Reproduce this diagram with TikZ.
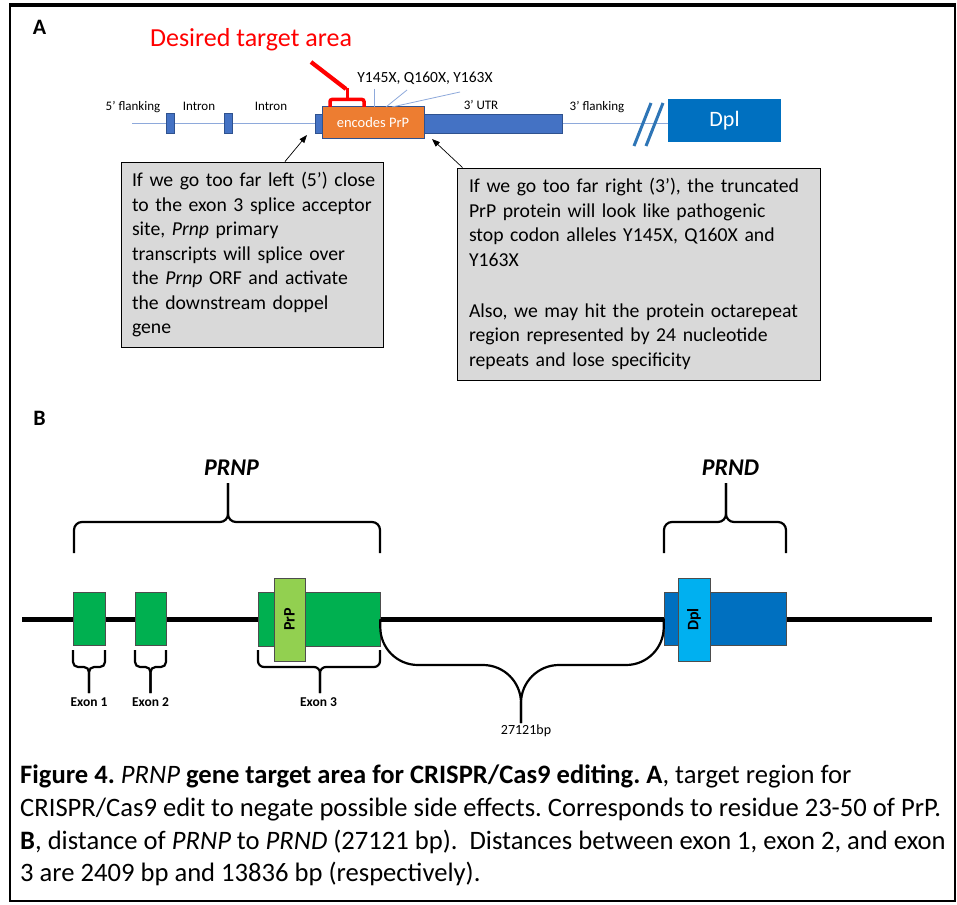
\documentclass[tikz,border=0pt]{standalone}
\usepackage{fontspec}
\setmainfont{Carlito}
\usetikzlibrary{arrows.meta}
\frenchspacing

\definecolor{thinblue}{HTML}{8EA9DB}
\definecolor{barblue}{HTML}{4472C4}
\definecolor{barline}{HTML}{2F528F}
\definecolor{prporange}{HTML}{ED7D31}
\definecolor{dplblue}{HTML}{0070C0}
\definecolor{slashblue}{HTML}{2E75B6}
\definecolor{noteGrey}{HTML}{D9D9D9}
\definecolor{exgreen}{HTML}{00B050}
\definecolor{prpgreen}{HTML}{92D050}
\definecolor{dpllight}{HTML}{00B0F0}
\definecolor{edgegrey}{HTML}{4D4D4D}

% one unbreakable line of a note
\newcommand{\noteline}[1]{\mbox{#1}\\}

\tikzset{
  lbl/.style={anchor=base, inner sep=0pt, font=\fontsize{13}{15}\selectfont},
  panel/.style={anchor=base, inner sep=0pt, font=\bfseries\fontsize{22}{26}\selectfont},
  exonA/.style={draw=barline, fill=barblue, line width=0.8pt, minimum width=8pt, minimum height=20pt, inner sep=0pt},
  note/.style={draw=black, fill=noteGrey, line width=0.9pt, align=left, inner xsep=11pt, inner ysep=0pt,
               font=\fontsize{19.7}{24.5}\selectfont},
  pointer/.style={draw=black, line width=0.7pt, -{Triangle[length=8pt,width=6pt]}},
  tick/.style={draw=thinblue, line width=0.8pt},
  gbox/.style={draw=edgegrey, line width=0.7pt, inner sep=0pt},
  vlabel/.style={rotate=90, font=\bfseries\fontsize{16}{18}\selectfont, inner sep=0pt},
  brace/.style={draw=black, line width=2.2pt},
  capline/.style={anchor=base west, inner sep=0pt, font=\fontsize{26.6}{33}\selectfont}
}

\begin{document}
\begin{tikzpicture}[x=1pt, y=-1pt]
\useasboundingbox (0,0) rectangle (957,904);
\fill[white] (0,0) rectangle (957,904);
% outer frame
\draw[line width=1.8pt] (10,5) rectangle (955,901);
\draw[line width=3.5pt] (9,5) -- (956,5);

% ---------------- panel A ----------------
\node[panel] (labA) at (39.5,35) {A};
\node[anchor=base, inner sep=0pt, text=red, font=\fontsize{26}{30}\selectfont] (want) at (251,47) {Desired target area};

% gene backbone
\draw[draw=thinblue, line width=1pt] (132,123.5) -- (320,123.5);
\draw[draw=thinblue, line width=1pt] (560,123.5) -- (670,123.5);
\node[exonA] (ex1) at (170,123) {};
\node[exonA] (ex2) at (228,123) {};
\node[draw=barline, fill=barblue, line width=0.8pt, minimum width=247pt, minimum height=19pt, inner sep=0pt] (utr) at (438.5,123.5) {};
\node[draw=barline, fill=prporange, line width=1pt, minimum width=102pt, minimum height=32pt, inner sep=0pt,
      text=white, font=\fontsize{14.5}{16}\selectfont] (orf) at (373,123) {encodes PrP};
% break marks
\draw[draw=slashblue, line width=3pt] (634,146) -- (651,103);
\draw[draw=slashblue, line width=3pt] (646,146) -- (663,103);
\node[fill=dplblue, minimum width=113pt, minimum height=43pt, inner sep=0pt,
      text=white, font=\fontsize{22}{24}\selectfont] (dplA) at (724.5,120.5) {Dpl};

% region labels
\node[lbl] (fl5) at (133,111) {5’ flanking};
\node[lbl] (in1) at (199,111) {Intron};
\node[lbl] (in2) at (271,111) {Intron};
\node[lbl] (utrl) at (481,110) {3’ UTR};
\node[lbl] (fl3) at (597,111) {3’ flanking};
\node[anchor=base, inner sep=0pt, font=\fontsize{15.5}{18}\selectfont] (stops) at (425,83) {Y145X, Q160X, Y163X};

% stop codon ticks
\coordinate (s1) at (374,107);
\coordinate (s2) at (386,107);
\coordinate (s3) at (392,107);
\draw[tick] (374,89) -- (s1);
\draw[tick] (407,90) -- (s2);
\draw[tick] (460,92) -- (s3);

% target callout
\draw[red, line width=4.2pt] (311,62) -- (346,89);
\draw[red, line width=3.5pt, rounded corners=2pt] (330,107) -- (330,99.5) -- (364,99.5) -- (364,107);
\draw[red, line width=3.5pt] (347.5,99.5) -- (347.5,88);

% notes
\node[note, text width=240pt, minimum height=185pt] (leftnote) at (252,254.5) {%
\noteline{If we go too far left (5’) close}
\noteline{to the exon 3 splice acceptor}
\noteline{site, \textit{Prnp} primary}
\noteline{transcripts will splice over}
\noteline{the \textit{Prnp} ORF and activate}
\noteline{the downstream doppel}
\mbox{gene}};
\node[note, inner xsep=12pt, text width=339pt, minimum height=212pt] (rightnote) at (638.5,274) {%
\noteline{If we go too far right (3’), the truncated}
\noteline{PrP protein will look like pathogenic}
\noteline{stop codon alleles Y145X, Q160X and}
\mbox{Y163X}\\[26.5pt]
\noteline{Also, we may hit the protein octarepeat}
\noteline{region represented by 24 nucleotide}
\mbox{repeats and lose specificity}};

\coordinate (hitL) at (307,135);
\coordinate (hitR) at (432,139);
\draw[pointer] ([xshift=33pt]leftnote.north) -- (hitL);
\draw[pointer] ([xshift=-176pt]rightnote.north) -- (hitR);

% ---------------- panel B ----------------
\node[panel] (labB) at (39.5,425) {B};
\node[anchor=base, inner sep=0pt, font=\bfseries\itshape\fontsize{24}{28}\selectfont] (prnp) at (231.5,475) {PRNP};
\node[anchor=base, inner sep=0pt, font=\bfseries\itshape\fontsize{24}{28}\selectfont] (prnd) at (730.5,475) {PRND};

% gene braces
\draw[brace, rounded corners=8pt] (74,553) -- (74,522) -- (228,522) -- (228,483);
\draw[brace, rounded corners=8pt] (380,553) -- (380,522) -- (228,522) -- (228,483);
\draw[brace, rounded corners=8pt] (664,553) -- (664,522) -- (726,522) -- (726,483);
\draw[brace, rounded corners=8pt] (786,553) -- (786,522) -- (726,522) -- (726,483);

% chromosome line
\draw[line width=5pt] (22,619) -- (932,619);

% PRNP exons
\node[gbox, fill=exgreen, minimum width=32pt, minimum height=53pt] (e1) at (89,618.5) {};
\node[gbox, fill=exgreen, minimum width=31pt, minimum height=53pt] (e2) at (150.5,618.5) {};
\node[gbox, fill=exgreen, minimum width=122pt, minimum height=54pt] (e3) at (319,619) {};
\node[gbox, fill=prpgreen, minimum width=31pt, minimum height=83pt] (prp) at (289.5,619.5) {};
\node[vlabel] at (prp) {PrP};

% PRND
\node[gbox, fill=dplblue, minimum width=122pt, minimum height=53pt] (d1) at (725,618.5) {};
\node[gbox, fill=dpllight, minimum width=32pt, minimum height=83pt] (dpl) at (694,619.5) {};
\node[vlabel] at (dpl) {Dpl};

% exon braces
\draw[brace, rounded corners=5pt] (73,650) -- (73,667) -- (89,667) -- (89,693);
\draw[brace, rounded corners=5pt] (105,650) -- (105,667) -- (89,667) -- (89,693);
\draw[brace, rounded corners=5pt] (135,650) -- (135,667) -- (150.5,667) -- (150.5,693);
\draw[brace, rounded corners=5pt] (166,650) -- (166,667) -- (150.5,667) -- (150.5,693);
\draw[brace, rounded corners=6pt] (258,650) -- (258,667) -- (320,667) -- (320,693);
\draw[brace, rounded corners=6pt] (380,650) -- (380,667) -- (320,667) -- (320,693);
\node[anchor=base, inner sep=0pt, font=\bfseries\fontsize{13.5}{15}\selectfont] (x1l) at (89,706) {Exon 1};
\node[anchor=base, inner sep=0pt, font=\bfseries\fontsize{13.5}{15}\selectfont] (x2l) at (150.5,706) {Exon 2};
\node[anchor=base, inner sep=0pt, font=\bfseries\fontsize{13.5}{15}\selectfont] (x3l) at (318.5,706) {Exon 3};

% intergenic distance
\draw[line width=2.2pt, rounded corners=38pt] (e3.east) -- (380,665) -- (521,665) -- (521,723);
\draw[line width=2.2pt, rounded corners=38pt] (d1.west) -- (664,665) -- (521,665) -- (521,723);
\node[anchor=base, inner sep=0pt, font=\fontsize{14}{16}\selectfont] (gap) at (526,734) {27121bp};

% ---------------- caption ----------------
\node[capline] (cap1) at (20,783) {\textbf{Figure 4.} \textit{PRNP} \textbf{gene target area for CRISPR/Cas9 editing. A}, target region for};
\node[capline] (cap2) at (20,816) {CRISPR/Cas9 edit to negate possible side effects. Corresponds to residue 23-50 of PrP.};
\node[capline] (cap3) at (20,849) {\textbf{B}, distance of \textit{PRNP} to \textit{PRND} (27121 bp).\ \ Distances between exon 1, exon 2, and exon};
\node[capline] (cap4) at (20,881) {3 are 2409 bp and 13836 bp (respectively).};
\end{tikzpicture}
\end{document}
